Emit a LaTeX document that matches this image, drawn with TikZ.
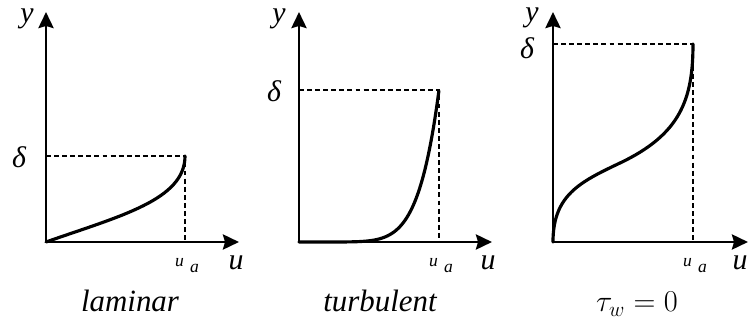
\documentclass[tikz,border=0pt]{standalone}
\usepackage{fontspec}
\setmainfont{Liberation Serif}
\usetikzlibrary{arrows.meta}

\begin{document}
\begin{tikzpicture}[
  x=0.02cm, y=-0.02cm,
  axis/.style={-{Stealth[length=0.32cm, width=0.3cm, inset=0.04cm]}, line width=1.7pt},
  prof/.style={line width=1.8pt, line cap=round},
  guide/.style={line width=1.1pt, dash pattern=on 2.8pt off 1.8pt},
  lbl/.style={font=\fontsize{17}{17}\selectfont\itshape, inner sep=0pt},
  sub/.style={font=\fontsize{10}{10}\selectfont\itshape, inner sep=0pt, anchor=base},
  caption/.style={font=\fontsize{17.6}{18}\selectfont, inner sep=0pt, anchor=base}
]
  \useasboundingbox (0,0) rectangle (755,331);

  % laminar
  \coordinate (o1) at (46,242);
  \coordinate (yt1) at (46,12);
  \coordinate (xt1) at (239,242);
  \coordinate (d1) at (46,156);
  \coordinate (a1) at (185,242);
  \coordinate (p1) at (185,156);
  \draw[guide] (d1) -| (a1);
  \draw[axis] (o1) -- (yt1);
  \draw[axis] (o1) -- (xt1);
  \draw[prof] (o1) .. controls (120,216) and (185,200) .. (p1);
  \node[lbl] (y1) at (27,19) {y};
  \node[lbl] (del1) at (19,157) {δ};
  \node[lbl, anchor=base] (u1) at (236,270) {u};
  \node[sub] (ua1) at (187,267) {u\hspace{0.12cm}\raisebox{-0.12cm}{a}};
  \node[caption, font=\fontsize{17.6}{18}\selectfont\itshape] (c1) at (130,312) {laminar};

  % turbulent
  \coordinate (o2) at (299,242);
  \coordinate (yt2) at (299,12);
  \coordinate (xt2) at (492,242);
  \coordinate (d2) at (299,90);
  \coordinate (a2) at (439,242);
  \draw[guide] (d2) -| (a2);
  \draw[axis] (o2) -- (yt2);
  \draw[axis] (o2) -- (xt2);
  \draw[prof] plot[domain=0:1, samples=80, smooth] ({299+140*\x}, {242-152*(\x)^7});
  \node[lbl] (y2) at (279,19) {y};
  \node[lbl] (del2) at (274,91) {δ};
  \node[lbl, anchor=base] (u2) at (488,270) {u};
  \node[sub] (ua2) at (441,267) {u\hspace{0.12cm}\raisebox{-0.12cm}{a}};
  \node[caption, font=\fontsize{17.6}{18}\selectfont\itshape] (c2) at (380,312) {turbulent};

  % zero wall shear
  \coordinate (o3) at (553,242);
  \coordinate (yt3) at (553,12);
  \coordinate (xt3) at (748,242);
  \coordinate (d3) at (553,44);
  \coordinate (a3) at (693,242);
  \coordinate (p3) at (693,44);
  \draw[guide] (d3) -| (a3);
  \draw[axis] (o3) -- (yt3);
  \draw[axis] (o3) -- (xt3);
  \draw[prof] (o3) .. controls (553,195) and (580,182) .. (620,163)
    .. controls (680,134.5) and (693,100) .. (p3);
  \node[lbl] (y3) at (532,18) {y};
  \node[lbl] (del3) at (527,48) {δ};
  \node[lbl, anchor=base] (u3) at (740,270) {u};
  \node[sub] (ua3) at (695,267) {u\hspace{0.12cm}\raisebox{-0.12cm}{a}};
  \node[caption] (c3) at (637,312) {$\tau_w = 0$};
\end{tikzpicture}
\end{document}
